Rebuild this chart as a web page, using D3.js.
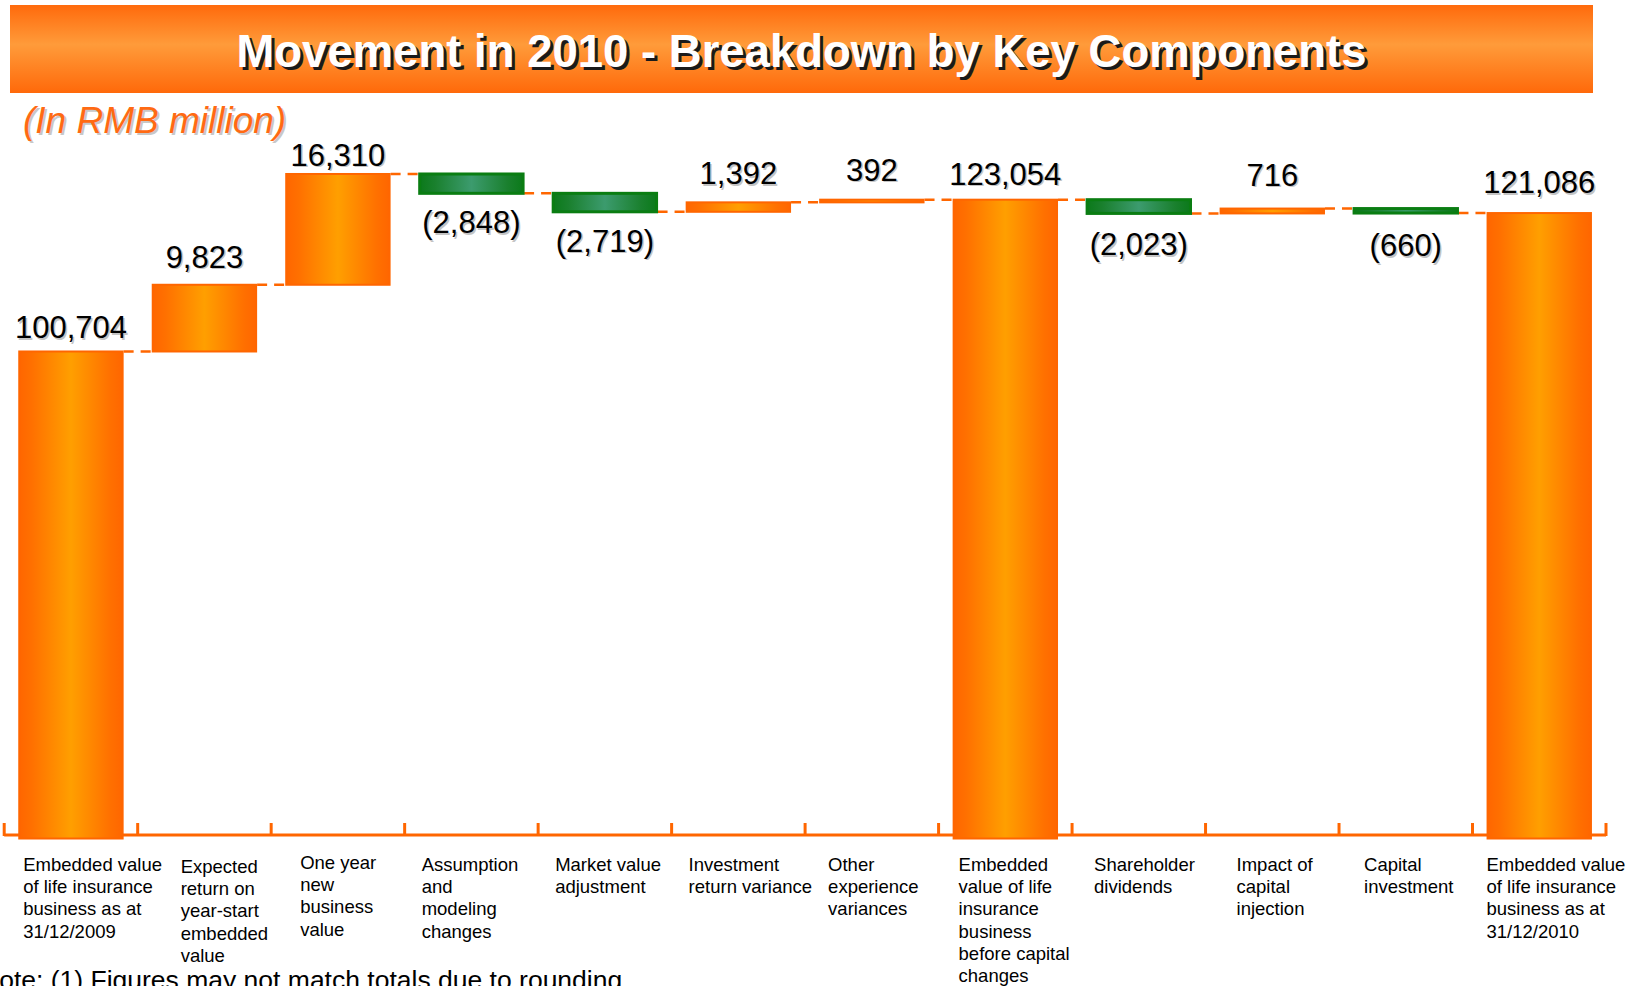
<!DOCTYPE html>
<html>
<head>
<meta charset="utf-8">
<script src="https://cdn.jsdelivr.net/npm/d3@7"></script>
<style>
  html, body { margin: 0; padding: 0; background: #ffffff; }
  svg { display: block; }
  text { font-family: "Liberation Sans", Arial, Helvetica, sans-serif; }
</style>
</head>
<body>
<svg id="chart" width="1630" height="986"></svg>
<script>
// ---- Data (RMB million) ----
const categories = [
  ["Embedded value", "of life insurance", "business as at", "31/12/2009"],
  ["Expected", "return on", "year-start", "embedded", "value"],
  ["One year", "new", "business", "value"],
  ["Assumption", "and", "modeling", "changes"],
  ["Market value", "adjustment"],
  ["Investment", "return variance"],
  ["Other", "experience", "variances"],
  ["Embedded", "value of life", "insurance", "business", "before capital", "changes"],
  ["Shareholder", "dividends"],
  ["Impact of", "capital", "injection"],
  ["Capital", "investment"],
  ["Embedded value", "of life insurance", "business as at", "31/12/2010"]
];
const values = [100704, 9823, 16310, -2848, -2719, 1392, 392, 123054, -2023, 716, -660, 121086];
const isTotal = [true, false, false, false, false, false, false, true, false, false, false, true];

const titleText = "Movement in 2010 - Breakdown by Key Components";
const unitText = "(In RMB million)";
const noteText = "Note: (1) Figures may not match totals due to rounding";

// ---- Layout ----
const yDomain = [29000, 130000];
const labelInset = [19, 43, 29, 17, 17, 17, 23, 20, 22, 31, 25, 14];   // category label left inset per band
const labelShift = [0, 2, -2, 0, 0, 0, 0, 0, 0, 0, 0, 0];            // small vertical nudges per label
const valueGap = [13, 17, 8, 40, 40, 18, 19, 15, 42, 23, 43, 20];     // distance of value label from bar edge

const svg = d3.select("#chart");
const defs = svg.append("defs");

function hGrad(id, stops) {
  const g = defs.append("linearGradient").attr("id", id)
    .attr("x1", "0%").attr("x2", "100%").attr("y1", "0%").attr("y2", "0%");
  stops.forEach(([o, c]) => g.append("stop").attr("offset", o).attr("stop-color", c));
}
hGrad("gOrange", [["0%", "#ff6600"], ["12%", "#ff7000"], ["50%", "#ff9f00"], ["88%", "#ff7000"], ["100%", "#ff6600"]]);
hGrad("gGreen", [["0%", "#0b7a1a"], ["15%", "#1a802e"], ["50%", "#3c9b6e"], ["85%", "#1a802e"], ["100%", "#0b7a1a"]]);

const bv = defs.append("linearGradient").attr("id", "gBanner")
  .attr("x1", "0%").attr("x2", "0%").attr("y1", "0%").attr("y2", "100%");
[["0%", "#ff6a0c"], ["45%", "#ff9b3a"], ["100%", "#ff690a"]]
  .forEach(([o, c]) => bv.append("stop").attr("offset", o).attr("stop-color", c));

// ---- Title banner ----
svg.append("rect").attr("x", 10).attr("y", 5).attr("width", 1583).attr("height", 88)
  .attr("fill", "url(#gBanner)");
const tx = (10 + 1593) / 2;
svg.append("text").attr("x", tx + 3).attr("y", 69.5).attr("text-anchor", "middle")
  .attr("font-size", 45.5).attr("font-weight", "bold").attr("fill", "#1a1a1a").text(titleText);
svg.append("text").attr("x", tx).attr("y", 66.5).attr("text-anchor", "middle")
  .attr("font-size", 45.5).attr("font-weight", "bold").attr("fill", "#ffffff").text(titleText);

// ---- Unit caption ----
svg.append("text").attr("x", 25).attr("y", 135).attr("font-size", 37).attr("font-style", "italic")
  .attr("fill", "#c8c8c8").text(unitText);
svg.append("text").attr("x", 23).attr("y", 133).attr("font-size", 37).attr("font-style", "italic")
  .attr("fill", "#ff6a13").text(unitText);

// ---- Scales ----
const x = d3.scaleBand().domain(d3.range(values.length)).range([4.2, 1606])
  .paddingInner(0.2105).paddingOuter(0.2105 / 2);
const y = d3.scaleLinear().domain(yDomain).range([838.5, 838.5 - (yDomain[1] - yDomain[0]) * 0.006792]);

// Running totals for the waterfall
let run = 0;
const bars = values.map((v, i) => {
  let lo, hi, end;
  if (isTotal[i]) { lo = yDomain[0]; hi = v; end = v; }
  else { const s = run, e = run + v; lo = Math.min(s, e); hi = Math.max(s, e); end = e; }
  run = end;
  return { i, v, lo, hi, end, total: isTotal[i], neg: v < 0 };
});

// ---- Axis line and ticks at band boundaries ----
const axisY = y(yDomain[0]) - 3.5;
const step = x.step();
const x0 = x.range()[0];
svg.append("line").attr("x1", x0).attr("x2", x.range()[1]).attr("y1", axisY).attr("y2", axisY)
  .attr("stroke", "#ff6600").attr("stroke-width", 3);
svg.append("g").selectAll("line").data(d3.range(values.length + 1)).join("line")
  .attr("x1", k => x0 + k * step).attr("x2", k => x0 + k * step)
  .attr("y1", axisY - 12).attr("y2", axisY + 1)
  .attr("stroke", "#ff6600").attr("stroke-width", 3);

// ---- Dashed connectors ----
svg.append("g").selectAll("line").data(bars.slice(0, -1)).join("line")
  .attr("x1", d => x(d.i) + x.bandwidth())
  .attr("x2", d => x(d.i + 1) + 4)
  .attr("y1", d => y(d.end)).attr("y2", d => y(d.end))
  .attr("stroke", "#ff6600").attr("stroke-width", 2.5).attr("stroke-dasharray", "10,7");

// ---- Bars ----
svg.append("g").selectAll("rect").data(bars).join("rect")
  .attr("x", d => x(d.i) + 1)
  .attr("width", x.bandwidth() - 2)
  .attr("y", d => y(d.hi))
  .attr("height", d => y(d.lo) - y(d.hi))
  .attr("fill", d => d.neg ? "url(#gGreen)" : "url(#gOrange)")
  .attr("stroke", d => d.neg ? "#0a7d12" : "#ff6600")
  .attr("stroke-width", d => d.neg ? 3 : 2);

// ---- Value labels ----
const fmt = d3.format(",");
const valText = v => v < 0 ? "(" + fmt(-v) + ")" : fmt(v);
const vlab = svg.append("g").attr("font-size", 31).attr("text-anchor", "middle");
bars.forEach(d => {
  const cx = x(d.i) + x.bandwidth() / 2;
  const by = d.neg ? y(d.lo) + valueGap[d.i] : y(d.hi) - valueGap[d.i];
  vlab.append("text").attr("x", cx + 1.5).attr("y", by + 1.5).attr("fill", "#c4c4c4").text(valText(d.v));
  vlab.append("text").attr("x", cx).attr("y", by).attr("fill", "#000").text(valText(d.v));
});

// ---- Category labels ----
const clab = svg.append("g").attr("font-size", 18.5).attr("fill", "#000");
categories.forEach((lines, i) => {
  const t = clab.append("text")
    .attr("x", x0 + i * step + labelInset[i])
    .attr("y", 871 + labelShift[i]);
  lines.forEach((ln, k) => {
    t.append("tspan").attr("x", x0 + i * step + labelInset[i]).attr("dy", k === 0 ? 0 : 22.2).text(ln);
  });
});

// ---- Footnote (runs past the page edges) ----
svg.append("text").attr("x", -20).attr("y", 989).attr("font-size", 26.5).attr("fill", "#000").text(noteText);
</script>
</body>
</html>
